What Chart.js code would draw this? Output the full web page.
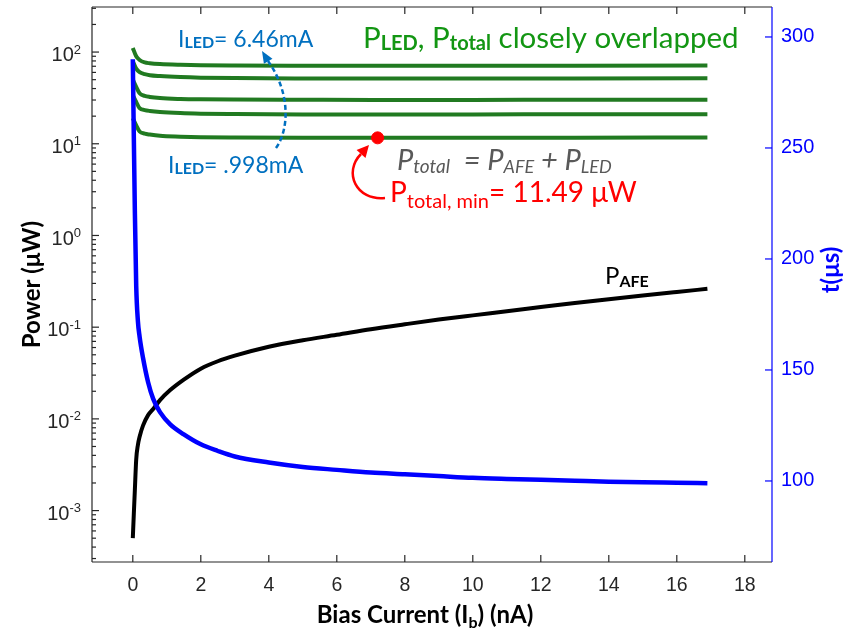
<!DOCTYPE html>
<html>
<head>
<meta charset="utf-8">
<script src="https://cdn.jsdelivr.net/npm/chart.js@4.4.0/dist/chart.umd.min.js"></script>
<style>
  html, body { margin: 0; padding: 0; background: #fff; }
  canvas { display: block; }
</style>
</head>
<body>
<canvas id="chart" width="846" height="634"></canvas>
<script>
// Bias current (nA) shared by P_AFE and t
const biasCurrent = [0, 0.03, 0.06, 0.1, 0.15, 0.2, 0.3, 0.45, 0.6, 0.8, 1.1, 1.5, 2, 2.5, 3, 4, 5, 6, 7, 8, 9, 10, 11, 12, 13, 14, 15, 16, 16.9];
// P_AFE (uW), left log axis
const pAFE = [5.0e-4, 9.2e-4, 1.66e-3, 3.6e-3, 5.2e-3, 6.4e-3, 8.45e-3, 0.011, 0.0128, 0.016, 0.0206, 0.0268, 0.0353, 0.0425, 0.0489, 0.0612, 0.072, 0.0825, 0.095, 0.1075, 0.121, 0.1345, 0.149, 0.1655, 0.1837, 0.2018, 0.2213, 0.242, 0.262];
// t (us), right axis
const tSettle = [290, 255, 222, 188, 172, 165, 155.5, 144.5, 137, 131, 125.5, 121, 116.5, 113.5, 111, 108.3, 106.3, 105, 103.8, 103, 102.2, 101.4, 100.9, 100.5, 100.1, 99.7, 99.4, 99.2, 99.0];

// P_total curves for five LED currents (uW)
const greenCurrent = [0, 0.1, 0.2, 0.35, 0.5, 0.8, 1.4, 2, 3, 5, 7.2, 10, 13, 16.9];
const pTotal1 = [111, 90, 82, 77, 75.5, 74, 72.6, 71.8, 71.3, 71, 70.9, 71, 71.1, 71.2];   // 6.46 mA
const pTotal2 = [80, 66, 60.5, 57.5, 56, 54.8, 53.4, 52.6, 52, 51.6, 51.5, 51.5, 51.6, 51.7];
const pTotal3 = [50, 41.6, 35.5, 33.3, 32.4, 31.5, 30.8, 30.5, 30.3, 30.2, 30.1, 30.1, 30.2, 30.2];
const pTotal4 = [34, 28.6, 24.4, 23.3, 22.8, 22.2, 21.6, 21.3, 21.1, 20.9, 20.9, 20.9, 21, 21];
const pTotal5 = [19, 15.9, 13.6, 12.9, 12.6, 12.2, 11.95, 11.8, 11.7, 11.62, 11.6, 11.62, 11.66, 11.72]; // 0.998 mA

// minimum point
const minCurrent = [7.2];
const minPower = [11.6];

// tick values
const xTickValues = [0, 2, 4, 6, 8, 10, 12, 14, 16, 18];
const tTickValues = [100, 150, 200, 250, 300];

const axisFont = '"Liberation Sans", Arial, sans-serif';
const textFont = 'Lato, "Open Sans", sans-serif';

function pts(xs, ys) {
  return xs.map((x, i) => ({ x: x, y: ys[i] }));
}

function line(ctx, x1, y1, x2, y2) {
  ctx.beginPath();
  ctx.moveTo(x1, y1);
  ctx.lineTo(x2, y2);
  ctx.stroke();
}

// draw text made of pieces (subscripts etc.)
function drawRich(ctx, x, y, parts) {
  ctx.textAlign = 'left';
  ctx.textBaseline = 'alphabetic';
  parts.forEach(p => {
    ctx.font = p.font;
    ctx.fillStyle = p.color;
    ctx.fillText(p.text, x, y + (p.dy || 0));
    x += ctx.measureText(p.text).width;
  });
}

function richWidth(ctx, parts) {
  let w = 0;
  parts.forEach(p => { ctx.font = p.font; w += ctx.measureText(p.text).width; });
  return w;
}

function arrowHead(ctx, tipX, tipY, fromX, fromY, len, half, color) {
  const ang = Math.atan2(tipY - fromY, tipX - fromX);
  ctx.fillStyle = color;
  ctx.beginPath();
  ctx.moveTo(tipX, tipY);
  ctx.lineTo(tipX - len * Math.cos(ang) + half * Math.sin(ang), tipY - len * Math.sin(ang) - half * Math.cos(ang));
  ctx.lineTo(tipX - len * Math.cos(ang) - half * Math.sin(ang), tipY - len * Math.sin(ang) + half * Math.cos(ang));
  ctx.closePath();
  ctx.fill();
}

const axisDecor = {
  id: 'axisDecor',
  afterDraw(chart) {
    const { ctx, chartArea: a, scales } = chart;
    const x = scales.x, y = scales.y, y2 = scales.y2;
    ctx.save();
    ctx.lineWidth = 1.2;
    ctx.strokeStyle = '#262626';
    line(ctx, a.left, a.top, a.right, a.top);
    line(ctx, a.left, a.bottom, a.right, a.bottom);
    line(ctx, a.left, a.top, a.left, a.bottom);

    x.ticks.forEach(t => {
      const px = x.getPixelForValue(t.value);
      line(ctx, px, a.bottom, px, a.bottom - 7);
      line(ctx, px, a.top, px, a.top + 7);
    });

    // log ticks on the left
    for (let e = -4; e <= 2; e++) {
      for (let k = 1; k <= 9; k++) {
        const v = k * Math.pow(10, e);
        if (v < y.min || v > y.max) continue;
        const py = y.getPixelForValue(v);
        line(ctx, a.left, py, a.left + (k === 1 ? 7 : 4), py);
      }
    }
    // 10^n labels
    ctx.fillStyle = '#262626';
    ctx.textAlign = 'left';
    ctx.textBaseline = 'alphabetic';
    for (let e = -3; e <= 2; e++) {
      const py = y.getPixelForValue(Math.pow(10, e));
      const sup = String(e);
      ctx.font = '13px ' + axisFont;
      const sw = ctx.measureText(sup).width;
      const right = a.left - 11;
      ctx.fillText(sup, right - sw, py + 1.6);
      ctx.font = '20px ' + axisFont;
      const bw = ctx.measureText('10').width;
      ctx.fillText('10', right - sw - bw, py + 9.3);
    }

    // right axis
    ctx.strokeStyle = '#0000ff';
    line(ctx, a.right, a.top, a.right, a.bottom);
    y2.ticks.forEach(t => {
      const py = y2.getPixelForValue(t.value);
      line(ctx, a.right - 7, py, a.right, py);
    });

    // axis titles
    const yTitle = [{ text: 'Power (\u03bcW)', font: 'bold 24px ' + textFont, color: '#000' }];
    ctx.save();
    ctx.translate(40, (a.top + a.bottom) / 2);
    ctx.rotate(-Math.PI / 2);
    drawRich(ctx, -richWidth(ctx, yTitle) / 2, 0, yTitle);
    ctx.restore();

    const y2Title = [{ text: 't(\u03bcs)', font: 'bold 24px ' + textFont, color: '#0000ff' }];
    ctx.save();
    ctx.translate(839, 270);
    ctx.rotate(-Math.PI / 2);
    drawRich(ctx, -richWidth(ctx, y2Title) / 2, 0, y2Title);
    ctx.restore();

    const xTitle = [
      { text: 'Bias Current (I', font: 'bold 24px ' + textFont, color: '#000' },
      { text: 'b', font: 'bold 16px ' + textFont, color: '#000', dy: 5 },
      { text: ') (nA)', font: 'bold 24px ' + textFont, color: '#000' }
    ];
    drawRich(ctx, (a.left + a.right) / 2 - richWidth(ctx, xTitle) / 2 - 7, 623, xTitle);

    // annotations
    const blue = '#0070c0';
    drawRich(ctx, 178, 46.5, [
      { text: 'I', font: '23px ' + textFont, color: blue },
      { text: 'LED', font: 'bold 16px ' + textFont, color: blue, dy: 1 },
      { text: '= 6.46mA', font: '23px ' + textFont, color: blue }
    ]);
    drawRich(ctx, 168, 173, [
      { text: 'I', font: '23px ' + textFont, color: blue },
      { text: 'LED', font: 'bold 16px ' + textFont, color: blue, dy: 1 },
      { text: '= .998mA', font: '23px ' + textFont, color: blue }
    ]);
    ctx.strokeStyle = blue;
    ctx.lineWidth = 2.5;
    ctx.setLineDash([5, 3]);
    ctx.beginPath();
    ctx.moveTo(276, 148);
    ctx.bezierCurveTo(289, 130, 291, 93, 268, 61);
    ctx.stroke();
    ctx.setLineDash([]);
    arrowHead(ctx, 262, 51, 268, 61, 12, 5, blue);

    const green = '#139613';
    drawRich(ctx, 363, 47.5, [
      { text: 'P', font: '29.5px ' + textFont, color: green },
      { text: 'LED', font: 'bold 20px ' + textFont, color: green, dy: 2 },
      { text: ', P', font: '29.5px ' + textFont, color: green },
      { text: 'total', font: 'bold 20px ' + textFont, color: green, dy: 2 },
      { text: ' closely overlapped', font: '29.5px ' + textFont, color: green }
    ]);

    const gray = '#595959';
    drawRich(ctx, 397, 170, [
      { text: 'P', font: 'italic 29px ' + textFont, color: gray },
      { text: 'total', font: 'italic 19px ' + textFont, color: gray, dy: 3 },
      { text: '  = P', font: 'italic 29px ' + textFont, color: gray },
      { text: 'AFE', font: 'italic 18px ' + textFont, color: gray, dy: 3 },
      { text: ' + P', font: 'italic 29px ' + textFont, color: gray },
      { text: 'LED', font: 'italic 18px ' + textFont, color: gray, dy: 3 }
    ]);

    const red = '#ff0000';
    drawRich(ctx, 390, 202, [
      { text: 'P', font: '28px ' + textFont, color: red },
      { text: 'total, min', font: '20px ' + textFont, color: red, dy: 6 },
      { text: '= 11.49 \u03bcW', font: '28px ' + textFont, color: red }
    ]);
    ctx.strokeStyle = red;
    ctx.lineWidth = 2.5;
    ctx.beginPath();
    ctx.moveTo(385, 198);
    ctx.bezierCurveTo(356, 201, 343, 172, 361, 154);
    ctx.stroke();
    arrowHead(ctx, 369, 145, 361, 154, 12, 6, red);

    drawRich(ctx, 605, 284, [
      { text: 'P', font: '24px ' + textFont, color: '#000' },
      { text: 'AFE', font: 'bold 16px ' + textFont, color: '#000', dy: 3 }
    ]);

    ctx.restore();
  }
};

new Chart(document.getElementById('chart').getContext('2d'), {
  type: 'line',
  data: {
    datasets: [
      { label: 'min', data: pts(minCurrent, minPower), yAxisID: 'y', showLine: false,
        pointRadius: 6, pointBackgroundColor: '#ff0000', pointBorderColor: '#ff0000' },
      { label: 't', data: pts(biasCurrent, tSettle), yAxisID: 'y2', borderColor: '#0000ff', borderWidth: 4.5,
        pointRadius: 0, cubicInterpolationMode: 'monotone' },
      { label: 'P_AFE', data: pts(biasCurrent, pAFE), yAxisID: 'y', borderColor: '#000000', borderWidth: 4,
        pointRadius: 0, cubicInterpolationMode: 'monotone' },
      { label: 'P1', data: pts(greenCurrent, pTotal1), yAxisID: 'y', borderColor: '#217a21', borderWidth: 4, pointRadius: 0, cubicInterpolationMode: 'monotone' },
      { label: 'P2', data: pts(greenCurrent, pTotal2), yAxisID: 'y', borderColor: '#217a21', borderWidth: 4, pointRadius: 0, cubicInterpolationMode: 'monotone' },
      { label: 'P3', data: pts(greenCurrent, pTotal3), yAxisID: 'y', borderColor: '#217a21', borderWidth: 4, pointRadius: 0, cubicInterpolationMode: 'monotone' },
      { label: 'P4', data: pts(greenCurrent, pTotal4), yAxisID: 'y', borderColor: '#217a21', borderWidth: 4, pointRadius: 0, cubicInterpolationMode: 'monotone' },
      { label: 'P5', data: pts(greenCurrent, pTotal5), yAxisID: 'y', borderColor: '#217a21', borderWidth: 4, pointRadius: 0, cubicInterpolationMode: 'monotone' }
    ]
  },
  options: {
    responsive: false,
    animation: false,
    layout: { padding: { top: 7, left: 0, right: 0, bottom: 0 } },
    plugins: { legend: { display: false }, tooltip: { enabled: false } },
    scales: {
      x: {
        type: 'linear', min: -1.2, max: 18.8,
        afterBuildTicks: s => { s.ticks = xTickValues.map(v => ({ value: v })); },
        ticks: { callback: v => String(v), font: { family: axisFont, size: 19.5 }, color: '#262626', padding: 12 },
        grid: { display: false, drawTicks: false },
        border: { display: false },
        afterFit: s => { s.height = 72; s.paddingLeft = 0; s.paddingRight = 0; }
      },
      y: {
        type: 'logarithmic', position: 'left', min: 2.75e-4, max: 310,
        ticks: { display: false },
        grid: { display: false, drawTicks: false },
        border: { display: false },
        afterFit: s => { s.width = 92; s.paddingTop = 0; s.paddingBottom = 0; }
      },
      y2: {
        type: 'linear', position: 'right', min: 63.5, max: 313.5,
        afterBuildTicks: s => { s.ticks = tTickValues.map(v => ({ value: v })); },
        ticks: { callback: v => String(v), color: '#0000ff', font: { family: axisFont, size: 20 }, padding: 9 },
        grid: { display: false, drawTicks: false },
        border: { display: false },
        afterFit: s => { s.width = 74; s.paddingTop = 0; s.paddingBottom = 0; }
      }
    }
  },
  plugins: [axisDecor]
});
</script>
</body>
</html>
